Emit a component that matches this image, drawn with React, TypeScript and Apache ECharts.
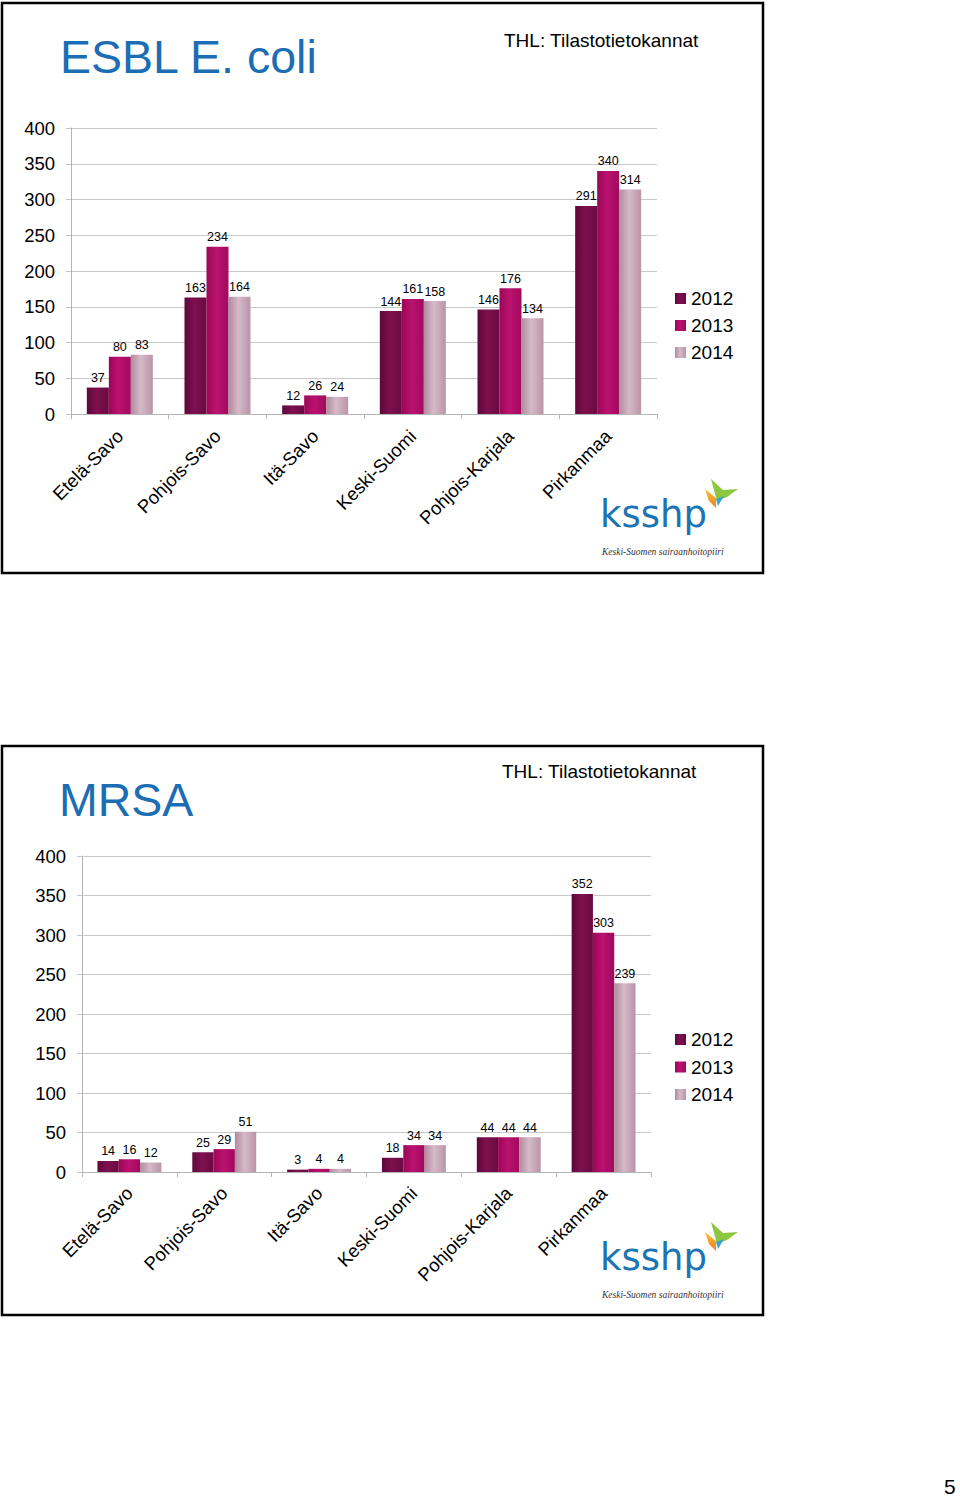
import React, { useEffect, useRef } from "react";
import * as echarts from "echarts";

const categories = ["Etelä-Savo", "Pohjois-Savo", "Itä-Savo", "Keski-Suomi", "Pohjois-Karjala", "Pirkanmaa"];
const years = ["2012", "2013", "2014"];

const esbl2012 = [37, 163, 12, 144, 146, 291];
const esbl2013 = [80, 234, 26, 161, 176, 340];
const esbl2014 = [83, 164, 24, 158, 134, 314];

const mrsa2012 = [14, 25, 3, 18, 44, 352];
const mrsa2013 = [16, 29, 4, 34, 44, 303];
const mrsa2014 = [12, 51, 4, 34, 44, 239];

const titles = ["ESBL E. coli", "MRSA"];
const sourceText = "THL: Tilastotietokannat";
const yMin = 0;
const yMax = 400;
const yStep = 50;

const FONT = "'Liberation Sans', Arial, Helvetica, sans-serif";

function grad(c1: string, c2: string, c3: string) {
  return new echarts.graphic.LinearGradient(0, 0, 1, 0, [
    { offset: 0, color: c1 },
    { offset: 0.45, color: c2 },
    { offset: 1, color: c3 },
  ]);
}

const yearColors = [
  () => grad("#5e0739", "#7e1050", "#6a0a42"),
  () => grad("#9a0756", "#bb1270", "#a10a5e"),
  () => grad("#b08a9d", "#d6bac7", "#b994a7"),
];

function logo(dy: number) {
  return [
    {
      type: "text",
      left: 600,
      top: 496 + dy,
      style: {
        text: "ksshp",
        font: "37px 'DejaVu Sans', sans-serif",
        fill: "#1c74b3",
      },
    },
    {
      type: "polygon",
      shape: { points: [[711, 479 + dy], [723, 490 + dy], [738, 489 + dy], [727, 497 + dy], [717, 501 + dy]] },
      style: { fill: "#8dc63f" },
    },
    {
      type: "polygon",
      shape: { points: [[705, 489 + dy], [716, 498 + dy], [716, 508 + dy], [709, 501 + dy]] },
      style: {
        fill: new echarts.graphic.LinearGradient(0, 0, 0, 1, [
          { offset: 0, color: "#f7c531" },
          { offset: 1, color: "#ee7d22" },
        ]),
      },
    },
    {
      type: "polygon",
      shape: { points: [[716, 499 + dy], [724, 496 + dy], [718, 506 + dy]] },
      style: { fill: "#3aa6c8" },
    },
    {
      type: "text",
      left: 602,
      top: 547 + dy,
      style: {
        text: "Keski-Suomen sairaanhoitopiiri",
        font: "italic 9.5px 'Liberation Serif', serif",
        fill: "#333",
      },
    },
  ];
}

function barSeries(name: string, data: number[], idx: number, colorIdx: number) {
  return {
    type: "bar",
    name,
    xAxisIndex: idx,
    yAxisIndex: idx,
    data,
    barWidth: idx === 0 ? 22 : 21.3,
    barGap: "0%",
    itemStyle: { color: yearColors[colorIdx]() },
    label: {
      show: true,
      position: "top",
      distance: 3,
      color: "#000",
      fontSize: 12.5,
      fontFamily: FONT,
    },
  };
}

function xAxisCfg(gridIndex: number, margin: number) {
  return {
    type: "category",
    gridIndex,
    data: categories,
    boundaryGap: true,
    axisLine: { show: true, lineStyle: { color: "#b5b5b5", width: 1 } },
    axisTick: { show: true, length: 5, alignWithLabel: false, lineStyle: { color: "#b5b5b5" } },
    axisLabel: { interval: 0, rotate: 45, margin, color: "#000", fontSize: 18.5, fontFamily: FONT },
  };
}

function yAxisCfg(gridIndex: number) {
  return {
    type: "value",
    gridIndex,
    min: yMin,
    max: yMax,
    interval: yStep,
    axisLine: { show: true, lineStyle: { color: "#b5b5b5", width: 1 } },
    axisTick: { show: true, length: 5, lineStyle: { color: "#c4c4c4" } },
    splitLine: { show: true, lineStyle: { color: "#c8c8c8", width: 1 } },
    axisLabel: { margin: 16, color: "#000", fontSize: 18.5, fontFamily: FONT },
  };
}

export default function App() {
  const ref = useRef<HTMLDivElement>(null);
  useEffect(() => {
    if (!ref.current) return;
    const chart = echarts.init(ref.current, undefined, { renderer: "svg" });
    const option: any = {
      animation: false,
      backgroundColor: "#ffffff",
      textStyle: { fontFamily: FONT },
      grid: [
        { left: 71, top: 128, width: 586, height: 286, containLabel: false },
        { left: 82, top: 856, width: 569, height: 316, containLabel: false },
      ],
      xAxis: [xAxisCfg(0, 19), xAxisCfg(1, 18)],
      yAxis: [yAxisCfg(0), yAxisCfg(1)],
      legend: [
        {
          orient: "vertical",
          left: 675,
          top: 289,
          padding: 0,
          itemWidth: 11,
          itemHeight: 11,
          itemGap: 8,
          icon: "rect",
          data: years,
          selectedMode: false,
          textStyle: { fontSize: 19, lineHeight: 19, color: "#000", fontFamily: FONT },
        },
        {
          orient: "vertical",
          left: 675,
          top: 1030,
          padding: 0,
          itemWidth: 11,
          itemHeight: 11,
          itemGap: 8.5,
          icon: "rect",
          data: years,
          selectedMode: false,
          textStyle: { fontSize: 19, lineHeight: 19, color: "#000", fontFamily: FONT },
        },
      ],
      series: [
        barSeries(years[0], esbl2012, 0, 0),
        barSeries(years[1], esbl2013, 0, 1),
        barSeries(years[2], esbl2014, 0, 2),
        barSeries(years[0], mrsa2012, 1, 0),
        barSeries(years[1], mrsa2013, 1, 1),
        barSeries(years[2], mrsa2014, 1, 2),
      ],
      graphic: [
        {
          type: "rect",
          shape: { x: 2, y: 3, width: 761, height: 570 },
          style: { fill: "none", stroke: "#000", lineWidth: 2.5 },
        },
        {
          type: "rect",
          shape: { x: 2, y: 746, width: 761, height: 569 },
          style: { fill: "none", stroke: "#000", lineWidth: 2.5 },
        },
        {
          type: "text",
          x: 60,
          y: 57,
          style: { text: titles[0], font: `46.5px ${FONT}`, fill: "#1b6db4", verticalAlign: "middle", align: "left" },
        },
        {
          type: "text",
          x: 504,
          y: 40,
          style: { text: sourceText, font: `19px ${FONT}`, fill: "#000", verticalAlign: "middle", align: "left" },
        },
        {
          type: "text",
          x: 59,
          y: 800,
          style: { text: titles[1], font: `46.5px ${FONT}`, fill: "#1b6db4", verticalAlign: "middle", align: "left" },
        },
        {
          type: "text",
          x: 502,
          y: 771,
          style: { text: sourceText, font: `19px ${FONT}`, fill: "#000", verticalAlign: "middle", align: "left" },
        },
        ...logo(0),
        ...logo(743),
        {
          type: "text",
          x: 944,
          y: 1486,
          style: { text: "5", font: `21px ${FONT}`, fill: "#000", verticalAlign: "middle", align: "left" },
        },
      ],
    };
    chart.setOption(option);
    return () => chart.dispose();
  }, []);
  return (
    <div
      ref={ref}
      style={{ position: "absolute", left: 0, top: 0, width: 960, height: 1501 }}
    />
  );
}
